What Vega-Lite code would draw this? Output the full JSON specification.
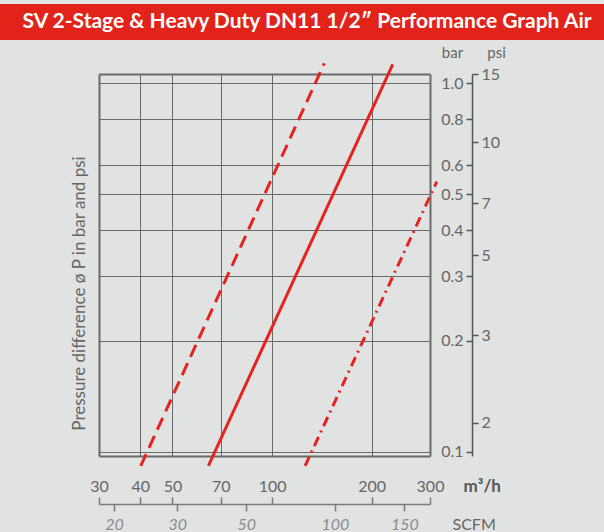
{
  "$schema": "https://vega.github.io/schema/vega-lite/v6.json",
  "background": "#e1e2e2",
  "padding": {"top": 4, "left": 0, "right": 0, "bottom": 0},
  "spacing": 5,
  "config": {
    "font": "Lato",
    "view": {"stroke": null},
    "axis": {"labelFont": "Lato", "titleFont": "Lato", "labelOverlap": false, "labelFlush": false}
  },
  "vconcat": [
    {
      "width": 604,
      "height": 36,
      "data": {"values": [{"title": "SV 2-Stage & Heavy Duty DN11 1/2″ Performance Graph Air"}]},
      "layer": [
        {"mark": {"type": "rect", "color": "#e2231a"}, "encoding": {}},
        {
          "mark": {"type": "text", "color": "#ffffff", "fontSize": 21, "fontWeight": "bold", "align": "center", "baseline": "middle", "dx": 5},
          "encoding": {"text": {"field": "title", "type": "nominal"}}
        }
      ]
    },
    {
      "width": 430,
      "height": 382,
      "data": {
        "values": [
          {"curve": "dashed", "m3h": 40.1, "bar": 0.0916},
          {"curve": "dashed", "m3h": 143.8, "bar": 1.133},
          {"curve": "solid", "m3h": 64.2, "bar": 0.0916},
          {"curve": "solid", "m3h": 231.5, "bar": 1.126},
          {"curve": "dashdot", "m3h": 125.8, "bar": 0.0916},
          {"curve": "dashdot", "m3h": 314.5, "bar": 0.541}
        ]
      },
      "layer": [
        {
          "transform": [{"filter": "datum.curve == 'dashed'"}],
          "mark": {"type": "line", "color": "#e52421", "strokeWidth": 3, "strokeDash": [13, 7], "clip": false},
          "encoding": {
            "x": {
              "field": "m3h", "type": "quantitative",
              "scale": {"type": "log", "domain": [30, 300], "range": [99, 430], "nice": false},
              "axis": {
                "orient": "bottom", "offset": 48,
                "values": [30, 40, 50, 70, 100, 200, 300], "format": "d",
                "grid": true, "gridColor": "#6a6a6a", "gridOpacity": 1,
                "gridWidth": {"condition": {"test": "datum.value == 30 || datum.value == 300", "value": 2}, "value": 1},
                "domain": true, "domainColor": "#7a7a7a", "domainWidth": 1.5,
                "ticks": true, "tickSize": -7, "tickColor": "#7a7a7a", "tickWidth": 1.5,
                "labelPadding": -6, "labelBaseline": "alphabetic", "labelFontSize": 16, "labelColor": "#666666",
                "title": "m³/h", "titleX": 463, "titleY": -13, "titleAlign": "left", "titleBaseline": "alphabetic",
                "titleFontSize": 17, "titleFontWeight": "bold", "titleColor": "#555555"
              }
            },
            "y": {
              "field": "bar", "type": "quantitative",
              "scale": {"type": "log", "domain": [0.0975, 1.06], "nice": false},
              "axis": {
                "orient": "left", "offset": -99,
                "values": [0.0975, 0.1, 0.2, 0.3, 0.4, 0.5, 0.6, 0.8, 1.0, 1.06],
                "labels": false, "ticks": false, "domain": false,
                "grid": true, "gridColor": "#6a6a6a", "gridOpacity": 1,
                "gridWidth": {"condition": {"test": "datum.value < 0.099 || datum.value > 1.05", "value": 2}, "value": 1},
                "title": "Pressure difference ø P in bar and psi",
                "titleX": -15, "titleY": 219, "titleAngle": 270, "titleAlign": "center", "titleBaseline": "alphabetic",
                "titleFontSize": 17, "titleFontWeight": "normal", "titleColor": "#666666"
              }
            }
          }
        },
        {
          "transform": [{"filter": "datum.curve == 'solid'"}],
          "mark": {"type": "line", "color": "#e52421", "strokeWidth": 3, "clip": false},
          "encoding": {
            "x": {
              "field": "m3h", "type": "quantitative",
              "axis": {
                "orient": "bottom", "offset": 48,
                "values": [33.3, 51.7, 83.6, 154.9, 250.9],
                "labelExpr": "datum.value < 40 ? '20' : datum.value < 60 ? '30' : datum.value < 100 ? '50' : datum.value < 200 ? '100' : '150'",
                "grid": false, "domain": false,
                "ticks": true, "tickSize": 7, "tickColor": "#7a7a7a", "tickWidth": 1.5,
                "labelPadding": 5, "labelFontSize": 16, "labelFontStyle": "italic", "labelColor": "#8c8c8c",
                "title": "SCFM", "titleX": 452, "titleY": 25, "titleAlign": "left", "titleBaseline": "alphabetic",
                "titleFontSize": 16, "titleFontWeight": "normal", "titleColor": "#666666"
              }
            },
            "y": {
              "field": "bar", "type": "quantitative",
              "axis": {
                "orient": "right", "offset": 42,
                "values": [0.1, 0.2, 0.3, 0.4, 0.5, 0.6, 0.8, 1.0], "format": ".1f",
                "grid": false, "domain": true, "domainColor": "#555555", "domainWidth": 1.5,
                "ticks": true, "tickSize": -6, "tickColor": "#555555", "tickWidth": 1.5,
                "labelAlign": "right", "labelBaseline": "middle", "labelPadding": -3, "labelFontSize": 16, "labelColor": "#666666",
                "title": "bar", "titleAngle": 0, "titleX": -20, "titleY": -17, "titleAlign": "center", "titleBaseline": "alphabetic",
                "titleFontSize": 15, "titleFontWeight": "normal", "titleColor": "#666666"
              }
            }
          }
        },
        {
          "transform": [{"filter": "datum.curve == 'dashdot'"}],
          "mark": {"type": "line", "color": "#e52421", "strokeWidth": 3, "strokeDash": [10, 5, 2, 5], "clip": false},
          "encoding": {
            "x": {"field": "m3h", "type": "quantitative", "axis": null},
            "y": {
              "field": "bar", "type": "quantitative",
              "axis": {
                "orient": "right", "offset": 42,
                "values": [1.06, 0.692, 0.473, 0.342, 0.207, 0.12],
                "labelExpr": "datum.value > 1 ? '15' : datum.value > 0.6 ? '10' : datum.value > 0.4 ? '7' : datum.value > 0.3 ? '5' : datum.value > 0.15 ? '3' : '2'",
                "grid": false, "domain": false,
                "ticks": true, "tickSize": 6, "tickColor": "#555555", "tickWidth": 1.5,
                "labelAlign": "left", "labelBaseline": "middle", "labelPadding": 3, "labelFontSize": 16, "labelColor": "#666666",
                "title": "psi", "titleAngle": 0, "titleX": 24, "titleY": -17, "titleAlign": "center", "titleBaseline": "alphabetic",
                "titleFontSize": 15, "titleFontWeight": "normal", "titleColor": "#666666"
              }
            }
          }
        }
      ],
      "resolve": {"axis": {"x": "independent", "y": "independent"}}
    }
  ]
}
